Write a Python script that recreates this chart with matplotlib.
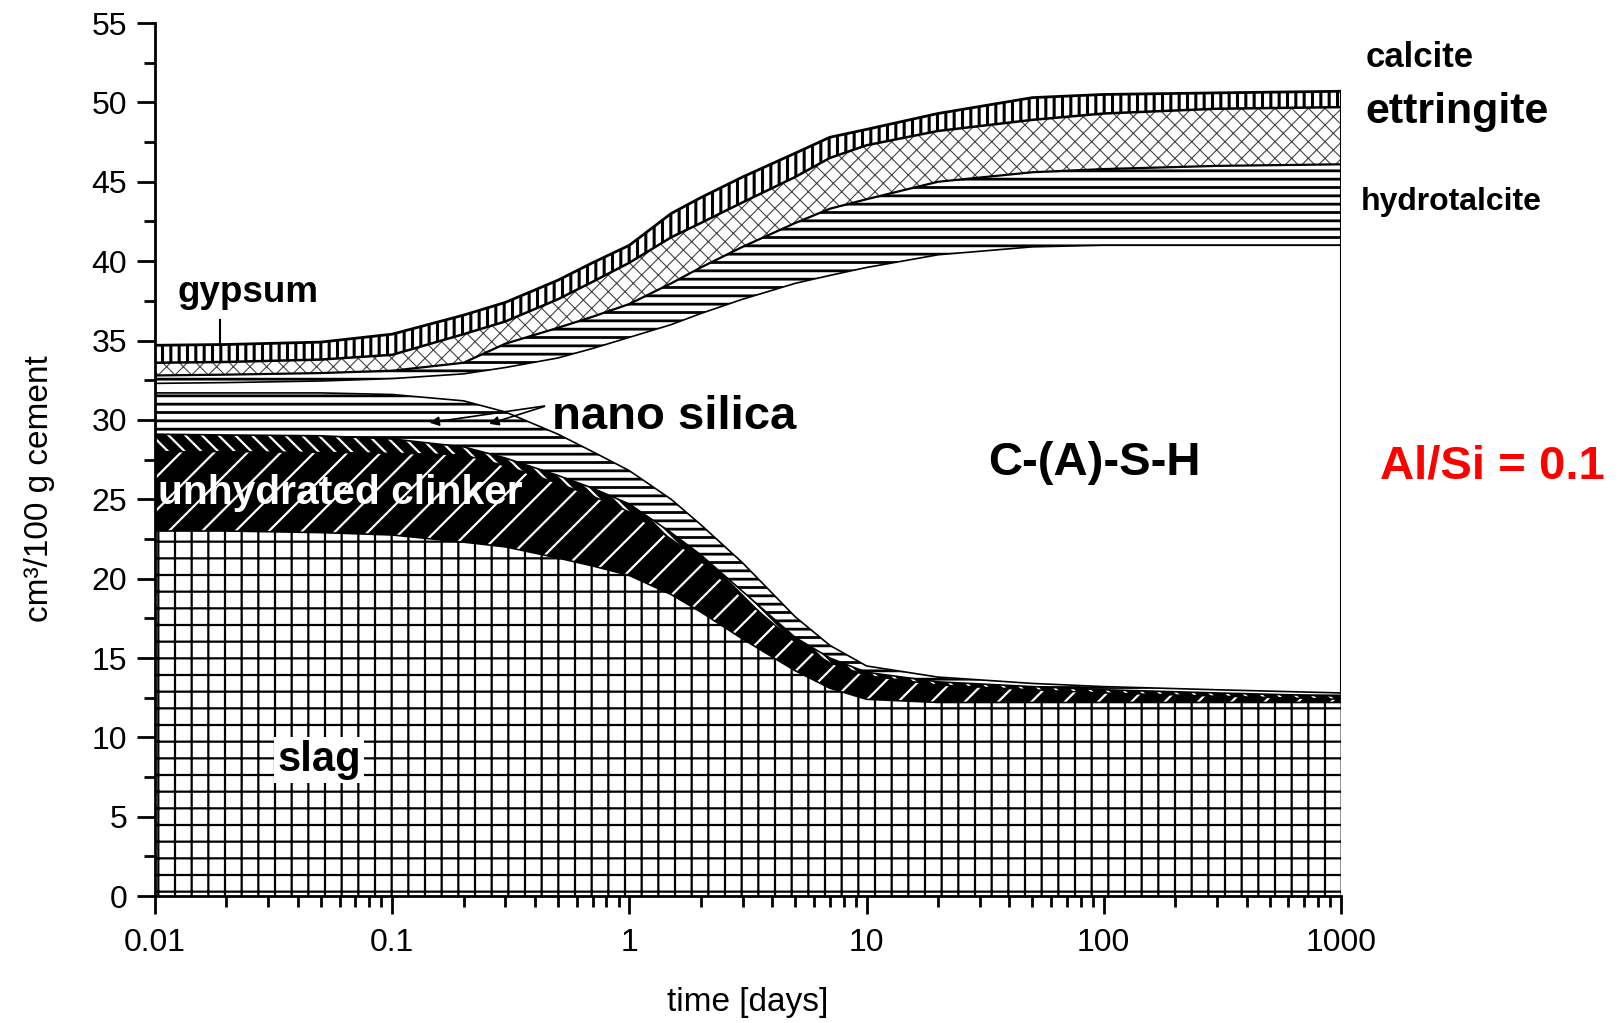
import numpy as np
import matplotlib
matplotlib.use("Agg")
import matplotlib.pyplot as plt
from matplotlib.ticker import FixedLocator, MultipleLocator, LogLocator, NullFormatter

plt.rcParams['font.family'] = ['Liberation Sans', 'DejaVu Sans']

# hydration time [days]
time_days = [0.01, 0.02, 0.05, 0.1, 0.2, 0.3, 0.5, 0.7, 1, 1.5, 2, 3, 5, 7, 10, 20, 50, 100, 300, 1000]

# cumulative phase volumes (upper boundary of each phase), cm3 / 100 g cement
slag_top     = [23.0, 23.0, 22.9, 22.75, 22.3, 22.0, 21.3, 20.8, 20.2, 19.0, 17.9, 16.2, 14.2, 13.1, 12.4, 12.2, 12.2, 12.2, 12.2, 12.2]
clinker_top  = [28.0, 28.0, 27.95, 27.9, 27.8, 27.1, 26.0, 25.2, 24.2, 22.5, 21.1, 18.8, 16.0, 14.7, 13.9, 13.3, 13.0, 12.8, 12.6, 12.4]
clinker2_top = [29.1, 29.05, 29.0, 28.8, 28.3, 27.6, 26.5, 25.7, 24.7, 22.9, 21.5, 19.2, 16.3, 15.0, 14.1, 13.5, 13.2, 13.0, 12.8, 12.6]
silica_top   = [31.7, 31.7, 31.7, 31.6, 31.2, 30.5, 29.1, 28.0, 26.8, 25.0, 23.4, 21.0, 17.6, 15.8, 14.5, 13.8, 13.4, 13.2, 13.0, 12.8]
csh_top      = [32.3, 32.35, 32.45, 32.6, 32.9, 33.3, 33.9, 34.5, 35.2, 36.0, 36.7, 37.6, 38.6, 39.1, 39.6, 40.4, 40.9, 41.0, 41.0, 41.0]
hydrotalcite_top = [32.8, 32.85, 32.95, 33.1, 33.6, 34.8, 35.8, 36.5, 37.3, 38.6, 39.6, 40.9, 42.4, 43.3, 43.9, 45.0, 45.6, 45.8, 46.0, 46.1]
ettringite_top   = [33.6, 33.65, 33.8, 34.1, 35.4, 36.2, 37.6, 38.7, 39.9, 41.5, 42.4, 43.7, 45.3, 46.5, 47.3, 48.2, 48.9, 49.3, 49.6, 49.7]
sulfate_top      = [34.7, 34.75, 34.9, 35.4, 36.6, 37.4, 38.8, 39.9, 41.0, 43.0, 44.0, 45.3, 46.8, 47.8, 48.3, 49.3, 50.3, 50.5, 50.6, 50.7]

x_ticks = [0.01, 0.1, 1, 10, 100, 1000]
x_tick_labels = ['0.01', '0.1', '1', '10', '100', '1000']
y_ticks = [0, 5, 10, 15, 20, 25, 30, 35, 40, 45, 50, 55]

t = np.array(time_days)
zero = np.zeros_like(t)

fig = plt.figure(figsize=(16.23, 10.23), dpi=100)
ax = fig.add_axes([0.0955, 0.124, 0.7307, 0.8535])


def band(lower, upper, face, hatch=None, hatch_color='black', hatch_lw=1.0):
    coll = ax.fill_between(t, lower, upper, facecolor=face, edgecolor=hatch_color,
                           hatch=hatch, linewidth=0, zorder=1)
    if hasattr(coll, 'set_hatch_linewidth'):
        coll.set_hatch_linewidth(hatch_lw)
    return coll


plt.rcParams['hatch.linewidth'] = 1.6
band(zero, slag_top, 'white', '+', 'black', 1.6)
band(slag_top, clinker_top, 'black', '/', 'white', 1.6)
band(clinker_top, clinker2_top, 'black', '\\\\', 'white', 1.6)
band(clinker2_top, silica_top, 'white', '--', 'black', 2.0)
band(silica_top, csh_top, 'white')
band(csh_top, hydrotalcite_top, 'white', '--', 'black', 2.0)
band(hydrotalcite_top, ettringite_top, 'white', 'xx', '#444444', 0.8)
band(ettringite_top, sulfate_top, 'white', '||', 'black', 2.2)

# phase boundaries
for edge, lw in [(slag_top, 1.2), (clinker_top, 1.0), (clinker2_top, 1.2), (silica_top, 1.2),
                 (csh_top, 1.2), (hydrotalcite_top, 1.6), (ettringite_top, 1.8), (sulfate_top, 2.0)]:
    ax.plot(t, edge, color='black', lw=lw, zorder=3, solid_capstyle='butt')
ax.plot([t[-1], t[-1]], [silica_top[-1], sulfate_top[-1]], color='black', lw=1.5, zorder=3)

ax.set_xscale('log')
ax.set_xlim(0.01, 1000)
ax.set_ylim(0, 55)

for side in ['top', 'right']:
    ax.spines[side].set_visible(False)
for side in ['left', 'bottom']:
    ax.spines[side].set_linewidth(2.0)
    ax.spines[side].set_zorder(5)

ax.xaxis.set_major_locator(FixedLocator(x_ticks))
ax.set_xticklabels(x_tick_labels)
ax.xaxis.set_minor_locator(LogLocator(base=10, subs=np.arange(2, 10), numticks=20))
ax.xaxis.set_minor_formatter(NullFormatter())
ax.yaxis.set_major_locator(FixedLocator(y_ticks))
ax.yaxis.set_minor_locator(MultipleLocator(2.5))

ax.tick_params(which='major', direction='out', length=13, width=2.0, labelsize=23, pad=7)
ax.tick_params(which='minor', direction='out', length=8, width=2.0)
ax.tick_params(axis='x', which='major', pad=10)

ax.set_xlabel('time [days]', fontsize=24)
ax.set_ylabel('cm³/100 g cement', fontsize=24)
ax.xaxis.set_label_coords(0.5, -0.104)
ax.yaxis.set_label_coords(-0.084, 0.467)

# phase labels
bold = dict(fontweight='bold', va='baseline', ha='left')
ax.text(0.0125, 37.4, 'gypsum', fontsize=26.5, **bold)
ax.plot([0.0188, 0.0188], [34.7, 36.3], color='black', lw=1.5, zorder=4)

ax.text(0.472, 29.4, 'nano silica', fontsize=34, zorder=6, **bold)
ax.annotate('', xy=(0.14, 29.8), xytext=(0.45, 30.9),
            arrowprops=dict(arrowstyle='-|>', color='black', lw=1.2, mutation_scale=14), zorder=6)
ax.annotate('', xy=(0.25, 29.7), xytext=(0.45, 30.9),
            arrowprops=dict(arrowstyle='-|>', color='black', lw=1.2, mutation_scale=14), zorder=6)

ax.text(0.0103, 24.7, 'unhydrated clinker', fontsize=29.3, color='white', zorder=6, **bold)
ax.text(0.0327, 7.9, 'slag', fontsize=30, zorder=6,
        bbox=dict(facecolor='white', edgecolor='none', pad=2), **bold)
ax.text(32.5, 26.5, 'C-(A)-S-H', fontsize=34, zorder=6, **bold)

ax.text(1274, 52.2, 'calcite', fontsize=25, clip_on=False, **bold)
ax.text(1274, 48.7, 'ettringite', fontsize=31, clip_on=False, **bold)
ax.text(1214, 43.2, 'hydrotalcite', fontsize=23, clip_on=False, **bold)
ax.text(1459, 26.3, 'Al/Si = 0.1', fontsize=34, color='#ff0000', clip_on=False, **bold)

fig.savefig('out.png', dpi=100)
